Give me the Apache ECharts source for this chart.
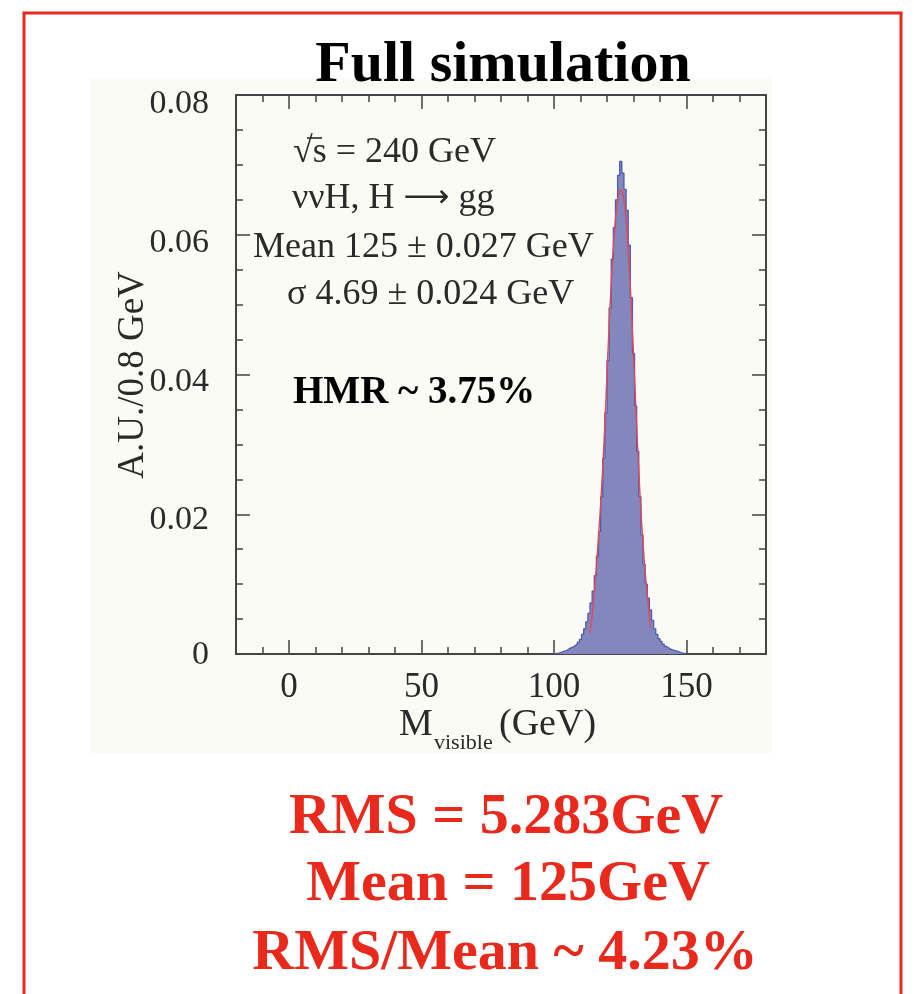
<!DOCTYPE html>
<html>
<head>
<meta charset="utf-8">
<script src="https://cdn.jsdelivr.net/npm/echarts@6/dist/echarts.min.js"></script>
<style>
  html, body { margin: 0; padding: 0; background: #ffffff; }
  #chart { width: 914px; height: 994px; }
</style>
</head>
<body>
<div id="chart"></div>
<script>
// ---------------- DATA ----------------
const HIST_START = 100.0;   // first bin low edge (GeV)
const BIN_WIDTH = 0.8;      // GeV
const histCounts = [
  0.0001, 0.0001, 0.0002, 0.0003, 0.0004, 0.0005, 0.0007, 0.0009, 0.0010, 0.0012,
  0.0014, 0.0017, 0.0021, 0.0028, 0.0036, 0.0046, 0.0058, 0.0073, 0.0090, 0.0112,
  0.0140, 0.0175, 0.0225, 0.0280, 0.0345, 0.0420, 0.0495, 0.0565, 0.0610, 0.0650,
  0.0685, 0.0705, 0.0688, 0.0665, 0.0635, 0.0585, 0.0510, 0.0430, 0.0355, 0.0290,
  0.0225, 0.0170, 0.0128, 0.0100, 0.0080, 0.0063, 0.0048, 0.0036, 0.0028, 0.0022,
  0.0018, 0.0014, 0.0011, 0.0009, 0.0007, 0.0006, 0.0005, 0.0004, 0.0003, 0.0002,
  0.0001, 0.0001
];
const fitX = [113.6, 114.4, 115.2, 116.0, 116.8, 117.6, 118.4, 119.2, 120.0, 120.8,
              121.6, 122.4, 123.2, 124.0, 124.8, 125.2, 125.6, 126.4, 127.2, 128.0,
              128.8, 129.6, 130.4, 131.2, 132.0, 132.8, 133.6, 134.4, 135.2, 136.0, 136.4];
const fitY = [0.0030, 0.0055, 0.0088, 0.0125, 0.0168, 0.0215, 0.0268, 0.0330, 0.0400, 0.0470,
              0.0530, 0.0582, 0.0622, 0.0650, 0.0663, 0.0664, 0.0663, 0.0650, 0.0620, 0.0578,
              0.0525, 0.0462, 0.0395, 0.0325, 0.0262, 0.0205, 0.0158, 0.0118, 0.0085, 0.0055, 0.0038];
const xMajorTicks = [0, 50, 100, 150];
const xMinorTicks = [-10, 10, 20, 30, 40, 60, 70, 80, 90, 110, 120, 130, 140, 160, 170];
const xRange = [-20, 180];
const yRange = [0, 0.08];
const yMajorStep = 0.02;
const infoLines = ['√s = 240 GeV', 'ννH, H ⟶ gg', 'Mean 125 ± 0.027 GeV', 'σ 4.69 ± 0.024 GeV'];
const hmrText = 'HMR ~ 3.75%';
const summaryLines = ['RMS = 5.283GeV', 'Mean = 125GeV', 'RMS/Mean ~ 4.23%'];
const titleText = 'Full simulation';
const yName = 'A.U./0.8 GeV';

// ---------------- BUILD ----------------
const histData = [[HIST_START, 0]];
histCounts.forEach((v, i) => histData.push([HIST_START + i * BIN_WIDTH, v]));
histData.push([HIST_START + histCounts.length * BIN_WIDTH, 0]);
const fitData = fitX.map((x, i) => [x, fitY[i]]);

const SERIF = "'Liberation Serif', 'Times New Roman', serif";
const AX = '#444';
const TXT = '#2a2a2a';
const RED = '#e8291c';

const gridPos = { left: 236, top: 95, width: 530, height: 559 };

// small downward label nudges (px) seen in the reference, per y tick
const yLabelShift = [1, 6, 8, 8, 9];
const yRich = {};
yLabelShift.forEach((s, i) => {
  yRich['p' + i] = { fontFamily: SERIF, fontSize: 34, color: TXT, padding: [s * 2, 0, 0, 0] };
});

const chart = echarts.init(document.getElementById('chart'), null, { renderer: 'canvas' });

function txt(x, y, text, font, fill, align, extra) {
  return Object.assign({
    type: 'text', z: 50, x: x, y: y, silent: true,
    style: { text: text, font: font, fill: fill, align: align || 'left', verticalAlign: 'middle' }
  }, extra || {});
}

const arrowParts = infoLines[1].split('⟶');

const option = {
  backgroundColor: '#ffffff',
  animation: false,
  grid: [
    Object.assign({ show: false }, gridPos),
    Object.assign({ show: false }, gridPos)
  ],
  xAxis: [
    {
      gridIndex: 0, type: 'value', position: 'bottom', min: xRange[0], max: xRange[1],
      axisLine: { show: true, onZero: false, lineStyle: { color: AX, width: 2 } },
      axisTick: { show: true, inside: true, length: 14, customValues: xMajorTicks, lineStyle: { color: AX, width: 1.5 } },
      axisLabel: { show: true, customValues: xMajorTicks, margin: 16, fontFamily: SERIF, fontSize: 35, color: TXT },
      splitLine: { show: false }
    },
    {
      gridIndex: 0, type: 'value', position: 'top', min: xRange[0], max: xRange[1],
      axisLine: { show: true, onZero: false, lineStyle: { color: AX, width: 2 } },
      axisTick: { show: true, inside: true, length: 14, customValues: xMajorTicks, lineStyle: { color: AX, width: 1.5 } },
      axisLabel: { show: false },
      splitLine: { show: false }
    },
    {
      gridIndex: 1, type: 'value', position: 'bottom', min: xRange[0], max: xRange[1],
      axisLine: { show: false },
      axisTick: { show: true, inside: true, length: 7, customValues: xMinorTicks, lineStyle: { color: AX, width: 1.5 } },
      axisLabel: { show: false },
      splitLine: { show: false }
    },
    {
      gridIndex: 1, type: 'value', position: 'top', min: xRange[0], max: xRange[1],
      axisLine: { show: false },
      axisTick: { show: true, inside: true, length: 7, customValues: xMinorTicks, lineStyle: { color: AX, width: 1.5 } },
      axisLabel: { show: false },
      splitLine: { show: false }
    }
  ],
  yAxis: [
    {
      gridIndex: 0, type: 'value', position: 'left', min: yRange[0], max: yRange[1], interval: yMajorStep,
      axisLine: { show: true, onZero: false, lineStyle: { color: AX, width: 2 } },
      axisTick: { show: true, inside: true, length: 14, lineStyle: { color: AX, width: 1.5 } },
      minorTick: { show: true, splitNumber: 4, length: 7, lineStyle: { color: AX, width: 1.5 } },
      axisLabel: {
        show: true, margin: 27, fontFamily: SERIF, fontSize: 34, color: TXT,
        formatter: v => {
          const i = Math.round(v / yMajorStep);
          return '{p' + i + '|' + (v === 0 ? '0' : v.toFixed(2)) + '}';
        },
        rich: yRich
      },
      splitLine: { show: false }
    },
    {
      gridIndex: 0, type: 'value', position: 'right', min: yRange[0], max: yRange[1], interval: yMajorStep,
      axisLine: { show: true, onZero: false, lineStyle: { color: AX, width: 2 } },
      axisTick: { show: true, inside: true, length: 14, lineStyle: { color: AX, width: 1.5 } },
      minorTick: { show: true, splitNumber: 4, length: 7, lineStyle: { color: AX, width: 1.5 } },
      axisLabel: { show: false },
      splitLine: { show: false }
    },
    {
      gridIndex: 1, type: 'value', min: yRange[0], max: yRange[1], show: false
    }
  ],
  series: [
    {
      type: 'line', xAxisIndex: 0, yAxisIndex: 0, step: 'end', data: histData,
      symbol: 'none', silent: true, z: 2,
      lineStyle: { color: '#4f5bb0', width: 1.3 },
      areaStyle: { color: '#8288bd', opacity: 1 }
    },
    {
      type: 'line', xAxisIndex: 0, yAxisIndex: 0, data: fitData, smooth: true,
      symbol: 'none', silent: true, z: 3,
      lineStyle: { color: '#e2475a', width: 1.4 }
    }
  ],
  graphic: [
    { type: 'rect', z: -10, silent: true, shape: { x: 90, y: 78, width: 682, height: 675 }, style: { fill: '#fbfbf6' } },
    { type: 'rect', z: 100, silent: true, shape: { x: 24, y: 13, width: 877, height: 1010 }, style: { fill: 'none', stroke: RED, lineWidth: 3 } },
    txt(503, 66, titleText, "bold 58px " + SERIF, '#000', 'center'),
    txt(133, 375, yName, "37px " + SERIF, TXT, 'center', { rotation: Math.PI / 2 }),
    txt(399, 725, 'M', "38px " + SERIF, TXT, 'left'),
    txt(434, 743, 'visible', "22px " + SERIF, TXT, 'left'),
    txt(499, 725, '(GeV)', "38px " + SERIF, TXT, 'left'),
    txt(293, 153, infoLines[0], "36px " + SERIF, TXT, 'left'),
    { type: 'line', z: 50, silent: true, shape: { x1: 307, y1: 138, x2: 322, y2: 138 }, style: { stroke: TXT, lineWidth: 1.6 } },
    {
      type: 'text', z: 50, x: 292, y: 199, silent: true,
      style: {
        text: '{a|' + arrowParts[0] + '}{b|⟶}{a|' + arrowParts[1] + '}',
        verticalAlign: 'middle', align: 'left',
        rich: {
          a: { font: "36px " + SERIF, fill: TXT },
          b: { font: "32px 'DejaVu Sans', sans-serif", fill: TXT }
        }
      }
    },
    txt(253, 248, infoLines[2], "36px " + SERIF, TXT, 'left'),
    txt(287, 295, infoLines[3], "36px " + SERIF, TXT, 'left'),
    txt(293, 393, hmrText, "bold 39px " + SERIF, '#000', 'left'),
    txt(506, 818, summaryLines[0], "bold 58px " + SERIF, RED, 'center'),
    txt(508, 885, summaryLines[1], "bold 58px " + SERIF, RED, 'center'),
    txt(505, 954, summaryLines[2], "bold 58px " + SERIF, RED, 'center')
  ]
};
chart.setOption(option);
</script>
</body>
</html>
